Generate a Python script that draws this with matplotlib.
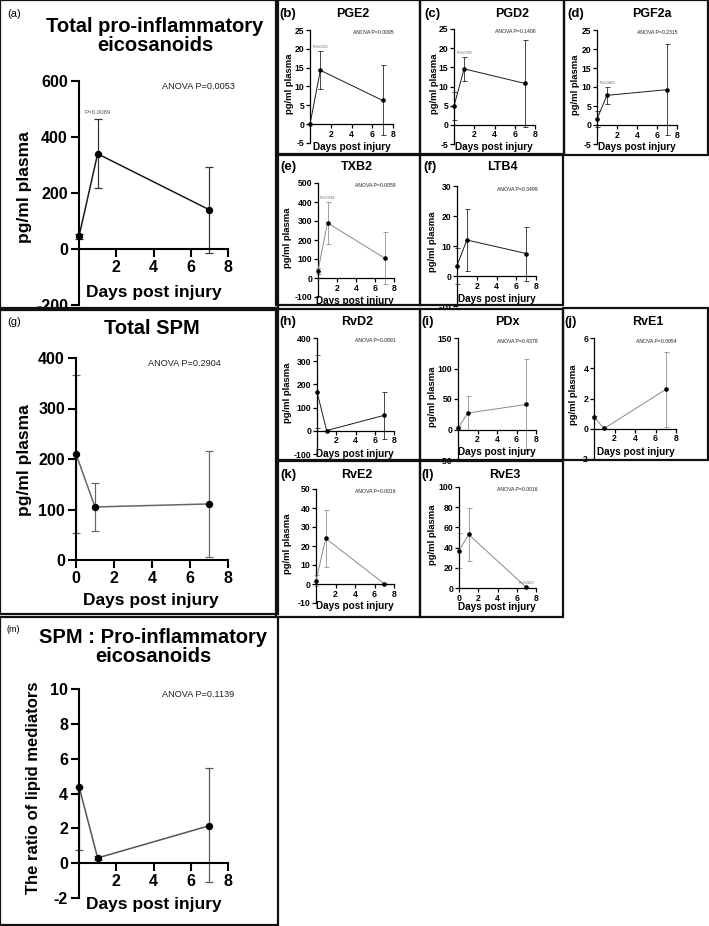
import matplotlib.pyplot as plt
from matplotlib.patches import Rectangle

plt.rcParams['font.family'] = ['Liberation Sans', 'DejaVu Sans']
plt.rcParams['axes.unicode_minus'] = False

W, H = 709, 926

days = [0, 1, 7]

# mean / SD (pg/ml plasma)
pro_inf_mean = [45, 340, 140]
pro_inf_sd = [10, 123, 153]
pge2_mean = [0, 14.3, 6.3]
pge2_sd = [0, 5.0, 9.3]
pgd2_mean = [4.9, 14.6, 10.8]
pgd2_sd = [3.6, 3.2, 11.4]
pgf2a_mean = [1.6, 7.8, 9.3]
pgf2a_sd = [2.2, 2.3, 11.9]
txb2_mean = [38, 290, 105]
txb2_sd = [15, 112, 135]
ltb4_mean = [3.5, 12, 7.5]
ltb4_sd = [6, 10.4, 9]
spm_mean = [210, 105, 111]
spm_sd = [157, 47, 105]
rvd2_mean = [168, 1, 67]
rvd2_sd = [158, 3, 101]
pdx_mean = [2, 27, 41]
pdx_sd = [3, 28, 75]
rve1_mean = [0.75, 0.02, 2.6]
rve1_sd = [0.1, 0.03, 2.5]
rve2_mean = [1.7, 24, 0.1]
rve2_sd = [3, 14.9, 0.2]
rve3_mean = [37, 53, 0.5]
rve3_sd = [17, 26.5, 0.5]
ratio_mean = [4.4, 0.3, 2.15]
ratio_err_lo = [3.64, 0.1, 3.25]   # only the lower bar is visible at day 0
ratio_err_hi = [0, 0.1, 3.3]

DARK = '#1a1a1a'
GREY = '#8a8a8a'

fig = plt.figure(figsize=(W / 100, H / 100), dpi=100)


def ftext(x, y, s, **kw):
    fig.text(x / W, 1 - y / H, s, ha=kw.pop('ha', 'center'), va=kw.pop('va', 'center'), **kw)


def box(x0, y0, x1, y1):
    fig.patches.append(Rectangle((x0 / W, 1 - y1 / H), (x1 - x0) / W, (y1 - y0) / H,
                                 transform=fig.transFigure, fill=False,
                                 edgecolor='#111111', linewidth=1.6, zorder=5))


def panel(axpx, ylim, yticks, mean, sd, big=False, xticks=(2, 4, 6, 8),
          color=DARK, ecolor=None, anova=None, pair=None, anova_x=0.76):
    l, t, r, b = axpx
    ax = fig.add_axes([l / W, 1 - b / H, (r - l) / W, (b - t) / H])
    ax.patch.set_alpha(0)
    ecolor = ecolor or color
    lw = 1.1 if big else 0.7
    ax.plot(days, mean, color=color, lw=lw, zorder=3, clip_on=False)
    ax.errorbar(days, mean, yerr=sd, fmt='none', ecolor=ecolor, elinewidth=lw * 0.8,
                capsize=3 if big else 1.8, capthick=lw * 0.8, zorder=2, clip_on=False)
    ax.plot(days, mean, 'o', color='black', ms=4.3 if big else 2.3, zorder=4, clip_on=False)
    ax.set_xlim(0, 8)
    ax.set_ylim(*ylim)
    ax.set_xticks(list(xticks))
    ax.set_yticks(yticks)
    for s in ['top', 'right']:
        ax.spines[s].set_visible(False)
    ax.spines['bottom'].set_position(('data', 0))
    ax.spines['left'].set_position(('data', 0))
    sw = 1.5 if big else 0.9
    for s in ['bottom', 'left']:
        ax.spines[s].set_linewidth(sw)
    ax.tick_params(direction='out', length=6 if big else 3, width=sw,
                   labelsize=11.5 if big else 6.2, pad=2 if big else 1)
    for lab in ax.get_xticklabels() + ax.get_yticklabels():
        lab.set_fontweight('bold')
    if anova:
        ax.text(anova_x, 0.975, 'ANOVA P=' + anova, transform=ax.transAxes,
                ha='center', va='center', fontsize=6.6 if big else 3.7, color='#222222')
    if pair:
        i, txt = pair
        top = mean[i] + (sd[1][i] if isinstance(sd, tuple) else sd[i])
        ax.annotate('P=' + txt, xy=(days[i], top), xytext=(0, 3 if big else 1.5),
                    textcoords='offset points', ha='center', va='bottom',
                    fontsize=4.4 if big else 2.6, color='#555555')
    return ax


# panel frames
box(0, 0, 278, 308)
box(276, 0, 420, 154)
box(420, 0, 564, 154)
box(564, 0, 708, 155)
box(276, 155, 420, 305)
box(420, 155, 563, 305)
box(0, 310, 278, 614)
box(276, 309, 420, 460)
box(420, 309, 563, 460)
box(563, 308, 708, 460)
box(276, 461, 420, 617)
box(420, 461, 563, 617)
box(0, 617, 278, 925)

# big panels
panel((79, 81, 228, 305), (-200, 600), [-200, 0, 200, 400, 600], pro_inf_mean, pro_inf_sd,
      big=True, color=DARK, ecolor='#333333', anova='0.0053', pair=(1, '0.0089'), anova_x=0.8)
ftext(155, 36, 'Total pro-inflammatory\neicosanoids', fontsize=14.5, fontweight='bold', linespacing=1.05)
ftext(14, 14, '(a)', fontsize=8)
ftext(25, 187, 'pg/ml plasma', rotation=90, fontsize=12.5, fontweight='bold')
ftext(154, 292, 'Days post injury', fontsize=12.5, fontweight='bold')

panel((76, 358, 228, 560), (0, 400), [0, 100, 200, 300, 400], spm_mean, spm_sd,
      big=True, xticks=(0, 2, 4, 6, 8), color='#666666', anova='0.2904', anova_x=0.71)
ftext(152, 328, 'Total SPM', fontsize=14.5, fontweight='bold')
ftext(14, 322, '(g)', fontsize=8)
ftext(25, 460, 'pg/ml plasma', rotation=90, fontsize=12.5, fontweight='bold')
ftext(151, 600, 'Days post injury', fontsize=12.5, fontweight='bold')

panel((79, 689, 228, 898), (-2, 10), [-2, 0, 2, 4, 6, 8, 10], ratio_mean, (ratio_err_lo, ratio_err_hi),
      big=True, color='#555555', anova='0.1139', anova_x=0.8)
ftext(153, 647, 'SPM : Pro-inflammatory\neicosanoids', fontsize=14.5, fontweight='bold', linespacing=1.05)
ftext(13, 630, '(m)', fontsize=6.5)
ftext(34, 788, 'The ratio of lipid mediators', rotation=90, fontsize=12, fontweight='bold')
ftext(154, 905, 'Days post injury', fontsize=12.5, fontweight='bold')

# small panels
small = [
    # axes px box, ylim, yticks, mean, sd, color, anova, pair, title, label, title xy, label xy, ylabel xy, xlabel xy
    ((310, 30, 393, 143), (-5, 25), [-5, 0, 5, 10, 15, 20, 25], pge2_mean, pge2_sd, DARK, '0.0095', (1, '0.0062'),
     'PGE2', '(b)', (353, 14), (288, 14), (289, 84), (352, 147)),
    ((454, 29, 535, 144), (-5, 25), [-5, 0, 5, 10, 15, 20, 25], pgd2_mean, pgd2_sd, DARK, '0.1406', (1, '0.0068'),
     'PGD2', '(c)', (512, 14), (432, 14), (434, 84), (494, 147)),
    ((597, 30, 677, 144), (-5, 25), [-5, 0, 5, 10, 15, 20, 25], pgf2a_mean, pgf2a_sd, DARK, '0.2315', (1, '0.0862'),
     'PGF2a', '(d)', (652, 14), (576, 14), (576, 85), (637, 147)),
    ((318, 183, 394, 297), (-100, 500), [-100, 0, 100, 200, 300, 400, 500], txb2_mean, txb2_sd, GREY, '0.0058',
     (1, '0.0319'), 'TXB2', '(e)', (357, 167), (288, 167), (288, 238), (355, 301)),
    ((457, 186, 536, 306), (-10, 30), [-10, 0, 10, 20, 30], ltb4_mean, ltb4_sd, DARK, '0.3499', None,
     'LTB4', '(f)', (502, 167), (430, 167), (432, 242), (497, 299)),
    ((317, 338, 394, 454), (-100, 400), [-100, 0, 100, 200, 300, 400], rvd2_mean, rvd2_sd, DARK, '0.0891', None,
     'RvD2', '(h)', (357, 322), (288, 322), (288, 393), (355, 454)),
    ((458, 338, 536, 460), (-50, 150), [-50, 0, 50, 100, 150], pdx_mean, pdx_sd, GREY, '0.4378', None,
     'PDx', '(i)', (507, 322), (428, 322), (432, 397), (497, 452)),
    ((594, 338, 676, 459), (-2, 6), [-2, 0, 2, 4, 6], rve1_mean, rve1_sd, GREY, '0.0954', None,
     'RvE1', '(j)', (648, 322), (571, 322), (574, 395), (636, 452)),
    ((316, 489, 394, 603), (-10, 50), [-10, 0, 10, 20, 30, 40, 50], rve2_mean, rve2_sd, GREY, '0.0016', None,
     'RvE2', '(k)', (357, 475), (288, 475), (288, 544), (355, 606)),
    ((459, 487, 536, 588), (0, 100), [0, 20, 40, 60, 80, 100], rve3_mean, rve3_sd, GREY, '0.0016', (2, '0.0100'),
     'RvE3', '(l)', (505, 475), (428, 475), (432, 535), (497, 607)),
]

for (axpx, ylim, yt, m, s, col, anova, pair, title, lab, txy, lxy, yxy, xxy) in small:
    xt = (0, 2, 4, 6, 8) if ylim[0] == 0 else (2, 4, 6, 8)
    panel(axpx, ylim, yt, m, s, xticks=xt, color=col, anova=anova, pair=pair)
    ftext(*txy, title, fontsize=9, fontweight='bold')
    ftext(*lxy, lab, fontsize=9.5, fontweight='bold')
    ftext(*yxy, 'pg/ml plasma', rotation=90, fontsize=6.8, fontweight='bold')
    ftext(*xxy, 'Days post injury', fontsize=7.2, fontweight='bold')

fig.savefig('out.png', dpi=100)
